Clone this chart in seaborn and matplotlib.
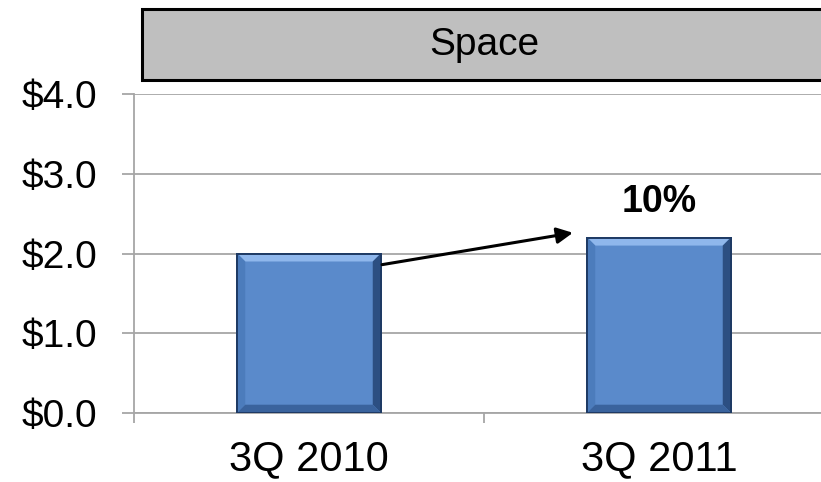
import matplotlib
matplotlib.use("Agg")
import matplotlib.pyplot as plt
import seaborn as sns
import pandas as pd
from matplotlib.patches import Rectangle, Polygon
from matplotlib.ticker import FixedLocator, FuncFormatter

# Chart values
quarters = ["3Q 2010", "3Q 2011"]
revenue = [2.0, 2.2]
growth_label = "10%"
panel_title = "Space"
y_ticks = [0.0, 1.0, 2.0, 3.0, 4.0]

df = pd.DataFrame({"quarter": quarters, "revenue": revenue})

sns.set_theme(style="white")
plt.rcParams["font.family"] = ["Liberation Sans", "DejaVu Sans"]

W, H = 821, 482
fig = plt.figure(figsize=(W / 100, H / 100), dpi=100)
ax = fig.add_axes([134 / W, 69.3 / H, 700 / W, 318.4 / H])

grey = "#A6A6A6"
sns.barplot(data=df, x="quarter", y="revenue", color="#5A8ACB", width=0.41,
            saturation=1, edgecolor="#1E3A64", linewidth=1.4, ax=ax, zorder=3)

ax.set_xlim(-0.5, 1.5)
ax.set_ylim(0, 4.0)
ax.set_xlabel("")
ax.set_ylabel("")

# y axis
ax.yaxis.set_major_locator(FixedLocator(y_ticks))
ax.yaxis.set_major_formatter(FuncFormatter(lambda v, _: f"${v:.1f}"))
ax.yaxis.grid(True, color=grey, lw=1.3)
ax.set_axisbelow(True)
ax.tick_params(axis="y", left=True, length=8.6, width=1.3, color=grey,
               pad=18, labelsize=28, labelcolor="black")

# x axis: category labels, separator ticks between categories
ax.xaxis.set_minor_locator(FixedLocator([-0.5, 0.5, 1.5]))
ax.tick_params(axis="x", which="major", length=0, pad=19, labelsize=30,
               labelcolor="black")
ax.tick_params(axis="x", which="minor", bottom=True, length=7, width=1.3,
               color=grey, direction="out")

for s in ["top", "right"]:
    ax.spines[s].set_visible(False)
for s in ["left", "bottom"]:
    ax.spines[s].set_color(grey)
    ax.spines[s].set_linewidth(1.3)

# bevel effect on the bars
fig.canvas.draw()
p0 = ax.transData.transform((0, 0))
p1 = ax.transData.transform((1, 1))
dx = 8 / (p1[0] - p0[0])
dy = 8 / (p1[1] - p0[1])
for bar in list(ax.patches):
    x0, y0 = bar.get_x(), bar.get_y()
    x1, y1 = x0 + bar.get_width(), y0 + bar.get_height()
    faces = [
        ([(x0, y1), (x1, y1), (x1 - dx, y1 - dy), (x0 + dx, y1 - dy)], "#8FB7EC"),
        ([(x0, y0), (x0, y1), (x0 + dx, y1 - dy), (x0 + dx, y0 + dy)], "#4C7CBC"),
        ([(x1, y0), (x1, y1), (x1 - dx, y1 - dy), (x1 - dx, y0 + dy)], "#2C4F82"),
        ([(x0, y0), (x1, y0), (x1 - dx, y0 + dy), (x0 + dx, y0 + dy)], "#3A639D"),
    ]
    for pts, c in faces:
        ax.add_patch(Polygon(pts, closed=True, fc=c, ec="none", zorder=3.5))
    ax.add_patch(Rectangle((x0, y0), x1 - x0, y1 - y0, fc="none",
                           ec="#1E3A64", lw=1.4, zorder=3.6))

# growth arrow and label
ax.annotate("", xy=(0.754, 2.26), xytext=(0.209, 1.86),
            arrowprops=dict(arrowstyle="-|>", color="black", lw=2.2,
                            mutation_scale=24, shrinkA=0, shrinkB=0),
            zorder=5)
ax.text(1.0, 2.65, growth_label, ha="center", va="center", fontsize=27,
        fontweight="bold", color="black")

# header panel
fig.patches.append(Rectangle((141.7 / W, (H - 80) / H), 1.0, 71 / H,
                             transform=fig.transFigure, fc="#BFBFBF",
                             ec="black", lw=2.2, zorder=0))
fig.text(484 / W, (H - 45) / H, panel_title, ha="center", va="center",
         fontsize=28, color="black")

fig.savefig("out.png", dpi=100)
